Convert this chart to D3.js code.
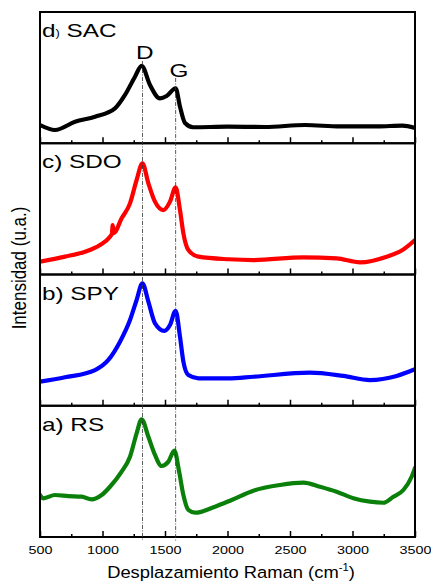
<!DOCTYPE html>
<html><head><meta charset="utf-8">
<script src="https://cdn.jsdelivr.net/npm/d3@7"></script>
<style>html,body{margin:0;padding:0;background:#fff;}svg{display:block;font-family:"Liberation Sans",Arial,sans-serif;}</style>
</head><body>
<svg id="c" width="431" height="581"></svg>
<script>
// ---- data ----
const xTicks = [500, 1000, 1500, 2000, 2500, 3000, 3500];
const panelNames = ["d) SAC", "c) SDO", "b) SPY", "a) RS"];
const panelColors = ["#000000", "#ff0000", "#0000ff", "#0a800a"];
const peakLabels = ["D", "G"];
const peakPositions = [1320, 1585];

const sacX = [500,620,780,940,1100,1180,1260,1313,1380,1460,1513,1585,1620,1660,1725,2000,2300,2620,2900,3200,3400,3500];
const sacY = [13.9,10.1,16.4,20.2,26.6,36.8,50.7,58.9,44.4,34.2,36.0,41.9,27.8,15.4,12.2,12.6,12.4,13.9,12.8,12.8,13.5,11.6];

const sdoX = [500,700,860,980,1060,1075,1082,1090,1153,1220,1273,1319,1367,1420,1487,1540,1585,1620,1647,1687,1767,2007,2207,2607,2873,3060,3273,3400,3500];
const sdoY = [9.8,13.6,17.4,22.5,28.8,30.9,37.7,31.6,42.8,54.2,72.0,84.7,69.5,55.5,49.1,55.5,66.4,49.1,31.4,18.7,13.6,11.6,11.0,13.1,12.3,9.3,13.6,18.7,26.3];

const spyX = [500,700,940,1047,1140,1220,1273,1319,1367,1420,1495,1540,1585,1620,1647,1687,1767,2007,2207,2660,2927,3140,3353,3500];
const spyY = [18.3,21.7,27.2,34.9,48.8,65.3,80.6,93.3,79.3,62.8,57.0,61.5,72.4,52.6,33.6,23.4,20.9,20.9,22.1,25.2,22.7,19.6,22.7,27.8];

const rsX = [500,527,620,727,833,913,993,1060,1153,1220,1273,1313,1367,1420,1473,1527,1575,1613,1647,1687,1740,1900,2033,2207,2420,2607,2740,2873,3007,3140,3247,3327,3407,3473,3500];
const rsY = [32.0,29.5,32.0,31.2,30.7,28.7,32.0,38.3,49.8,61.2,79.0,89.7,76.4,62.5,54.1,57.4,65.8,49.8,32.0,20.6,18.5,23.1,28.2,35.3,39.6,41.4,38.3,34.5,29.5,26.9,26.1,30.7,35.8,45.9,52.6];

const seriesX = [sacX, sdoX, spyX, rsX];
const seriesY = [sacY, sdoY, spyY, rsY];

// ---- layout ----
const svg = d3.select("#c");
const L = 40, R = 415, T = 12, B = 537;
const nP = 4, pH = (B - T) / nP;
const SX = 1.28; // horizontal text stretch of the original
const x = d3.scaleLinear().domain([500, 3500]).range([L, R]);
const minorTicks = d3.range(500, 3501, 250);

function stext(parent, tx, ty, size, anchor, sx) {
  return parent.append("text")
    .attr("transform", `translate(${tx},${ty}) scale(${sx},1)`)
    .attr("font-size", size).attr("text-anchor", anchor).attr("fill", "#000");
}

for (let i = 0; i < nP; i++) {
  const top = T + i * pH, bot = top + pH;
  const y = d3.scaleLinear().domain([0, 100]).range([bot, top]);
  const g = svg.append("g");
  const data = seriesX[i].map((v, j) => [v, seriesY[i][j]]);
  const line = d3.line().x(d => x(d[0])).y(d => y(d[1])).curve(d3.curveMonotoneX);
  g.append("clipPath").attr("id", "cp" + i).append("rect")
    .attr("x", L).attr("y", top).attr("width", R - L).attr("height", pH);
  g.append("path").datum(data).attr("d", line)
    .attr("clip-path", "url(#cp" + i + ")")
    .attr("fill", "none").attr("stroke", panelColors[i])
    .attr("stroke-width", 4.2).attr("stroke-linejoin", "round").attr("stroke-linecap", "round");
  // inward ticks on bottom edge
  const ax = d3.axisBottom(x).tickValues(minorTicks).tickSizeInner(-3).tickSizeOuter(0).tickFormat("");
  const axg = g.append("g").attr("transform", `translate(0,${bot})`).call(ax);
  axg.select(".domain").remove();
  axg.selectAll(".tick line").attr("stroke", "#000").attr("stroke-width", 1.5)
    .attr("y2", d => (d % 500 === 0) ? -6 : -3);
  // panel label
  const lab = stext(g, 42, top + 25, 19, "start", SX);
  if (i === 0) {
    lab.append("tspan").text(panelNames[i].slice(0, 1));
    lab.append("tspan").attr("font-size", 10).text(panelNames[i].slice(1, 2));
    lab.append("tspan").text(panelNames[i].slice(2));
  } else {
    lab.text(panelNames[i]);
  }
  // frame
  g.append("rect").attr("x", L).attr("y", top).attr("width", R - L).attr("height", pH)
    .attr("fill", "none").attr("stroke", "#000").attr("stroke-width", 2);
}

// bottom tick labels
const bax = d3.axisBottom(x).tickValues(xTicks).tickSize(0).tickPadding(9).tickFormat(d3.format("d"));
const bg = svg.append("g").attr("transform", `translate(0,${B})`).call(bax);
bg.select(".domain").remove();
bg.selectAll("text").attr("font-size", 11.5).attr("font-family", "Liberation Sans, Arial, sans-serif")
  .attr("fill", "#000").attr("transform", `scale(1.25,1)`);

// peak reference lines
const peakTop = [61, 78];
const peakLabelY = [59, 76.5];
peakPositions.forEach((p, k) => {
  svg.append("line").attr("x1", x(p)).attr("x2", x(p)).attr("y1", peakTop[k]).attr("y2", B + 4)
    .attr("stroke", "#333").attr("stroke-width", 0.8).attr("stroke-dasharray", "4,1.5,1,1.5");
  stext(svg, x(p) + (k === 0 ? 2.3 : 3.3), peakLabelY[k], 19, "middle", SX).text(peakLabels[k]);
});

// axis titles
const xt = stext(svg, 231, 578, 17, "middle", 1.08);
xt.append("tspan").text("Desplazamiento Raman (cm");
xt.append("tspan").attr("font-size", 10.5).attr("dy", -7.5).text("-1");
xt.append("tspan").attr("dy", 7.5).text(")");

svg.append("text").attr("transform", "translate(26,268) rotate(-90) scale(1,1.15)").attr("text-anchor", "middle")
  .attr("font-size", 17).attr("fill", "#000").text("Intensidad (u.a.)");
</script>
</body></html>
